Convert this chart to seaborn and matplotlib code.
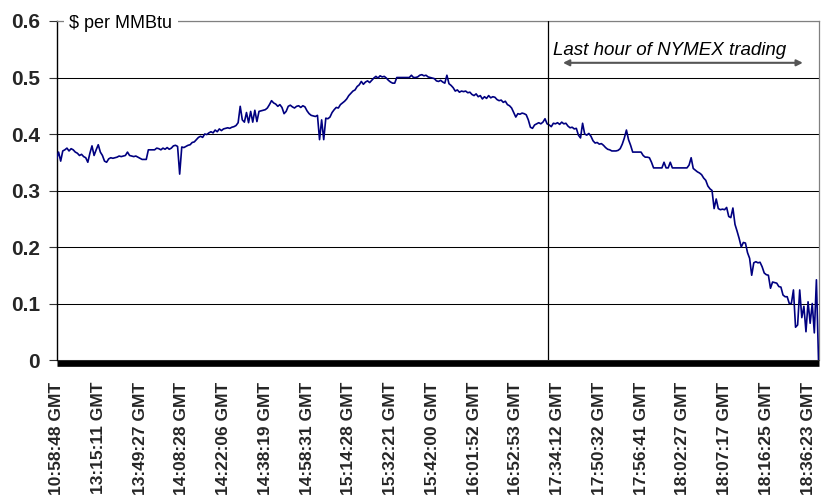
import numpy as np
import pandas as pd
import matplotlib
matplotlib.use("Agg")
import matplotlib.pyplot as plt
import seaborn as sns

# Intraday basis spread, $ per MMBtu, one value per trade sample (20 samples per labelled tick)
prices = (
    [0.355, 0.368, 0.352, 0.370, 0.372, 0.375, 0.370, 0.374, 0.372, 0.368,
     0.366, 0.362, 0.364, 0.360, 0.358, 0.350, 0.366, 0.379, 0.362, 0.372]
    + [0.381, 0.368, 0.362, 0.352, 0.350, 0.356, 0.358, 0.357, 0.358, 0.359,
       0.361, 0.360, 0.361, 0.362, 0.368, 0.362, 0.361, 0.360, 0.361, 0.359]
    + [0.357, 0.355, 0.355, 0.355, 0.372, 0.372, 0.372, 0.372, 0.375, 0.374,
       0.372, 0.375, 0.373, 0.376, 0.373, 0.375, 0.379, 0.380, 0.378, 0.329]
    + [0.377, 0.376, 0.378, 0.380, 0.381, 0.385, 0.386, 0.390, 0.394, 0.396,
       0.394, 0.400, 0.399, 0.402, 0.404, 0.402, 0.407, 0.404, 0.409, 0.406]
    + [0.409, 0.410, 0.411, 0.410, 0.412, 0.413, 0.415, 0.420, 0.449, 0.425,
       0.421, 0.438, 0.420, 0.440, 0.421, 0.442, 0.422, 0.440, 0.441, 0.442]
    + [0.443, 0.446, 0.452, 0.459, 0.455, 0.453, 0.449, 0.452, 0.447, 0.436,
       0.440, 0.449, 0.451, 0.448, 0.446, 0.449, 0.450, 0.447, 0.450, 0.448]
    + [0.441, 0.436, 0.433, 0.432, 0.431, 0.433, 0.390, 0.425, 0.390, 0.428,
       0.427, 0.430, 0.438, 0.443, 0.447, 0.446, 0.452, 0.455, 0.458, 0.462]
    + [0.468, 0.472, 0.476, 0.478, 0.484, 0.487, 0.493, 0.488, 0.492, 0.494,
       0.491, 0.495, 0.499, 0.502, 0.499, 0.503, 0.501, 0.502, 0.499, 0.495]
    + [0.492, 0.490, 0.490, 0.500, 0.500, 0.500, 0.500, 0.500, 0.500, 0.500,
       0.504, 0.500, 0.500, 0.501, 0.504, 0.505, 0.503, 0.504, 0.501, 0.500]
    + [0.499, 0.498, 0.494, 0.493, 0.495, 0.492, 0.490, 0.504, 0.489, 0.486,
       0.482, 0.476, 0.478, 0.474, 0.476, 0.475, 0.476, 0.473, 0.474, 0.470]
    + [0.468, 0.471, 0.466, 0.468, 0.462, 0.466, 0.463, 0.468, 0.464, 0.466,
       0.465, 0.461, 0.459, 0.460, 0.456, 0.458, 0.452, 0.450, 0.446, 0.438]
    + [0.430, 0.436, 0.435, 0.437, 0.436, 0.434, 0.425, 0.412, 0.410, 0.416,
       0.418, 0.420, 0.418, 0.421, 0.427, 0.418, 0.416, 0.413, 0.419, 0.418]
    + [0.420, 0.417, 0.421, 0.418, 0.419, 0.414, 0.411, 0.412, 0.409, 0.410,
       0.398, 0.393, 0.419, 0.400, 0.398, 0.401, 0.396, 0.388, 0.384, 0.385]
    + [0.382, 0.383, 0.380, 0.376, 0.373, 0.372, 0.370, 0.370, 0.370, 0.371,
       0.374, 0.382, 0.393, 0.407, 0.390, 0.380, 0.368, 0.368, 0.368, 0.368]
    + [0.368, 0.362, 0.359, 0.359, 0.358, 0.350, 0.340, 0.340, 0.340, 0.340,
       0.340, 0.350, 0.340, 0.340, 0.350, 0.340, 0.340, 0.340, 0.340, 0.340]
    + [0.340, 0.340, 0.340, 0.345, 0.358, 0.339, 0.336, 0.333, 0.331, 0.328,
       0.322, 0.318, 0.308, 0.303, 0.300, 0.268, 0.285, 0.268, 0.266, 0.267]
    + [0.266, 0.270, 0.254, 0.252, 0.269, 0.240, 0.228, 0.215, 0.200, 0.208,
       0.207, 0.190, 0.180, 0.150, 0.172, 0.174, 0.172, 0.173, 0.165, 0.154]
    + [0.151, 0.150, 0.127, 0.138, 0.137, 0.136, 0.130, 0.129, 0.115, 0.112,
       0.112, 0.100, 0.100, 0.124, 0.058, 0.062, 0.124, 0.075, 0.095, 0.050]
    + [0.103, 0.065, 0.100, 0.048, 0.142, 0.000]
)

tick_labels = [
    "10:58:48 GMT", "13:15:11 GMT", "13:49:27 GMT", "14:08:28 GMT",
    "14:22:06 GMT", "14:38:19 GMT", "14:58:31 GMT", "15:14:28 GMT",
    "15:32:21 GMT", "15:42:00 GMT", "16:01:52 GMT", "16:52:53 GMT",
    "17:34:12 GMT", "17:50:32 GMT", "17:56:41 GMT", "18:02:27 GMT",
    "18:07:17 GMT", "18:16:25 GMT", "18:36:23 GMT",
]
samples_per_label = 20
y_ticks = [0, 0.1, 0.2, 0.3, 0.4, 0.5, 0.6]
y_tick_labels = ["0", "0.1", "0.2", "0.3", "0.4", "0.5", "0.6"]

# start of the final hour of NYMEX trading, in sample units
last_hour_start = 235.4
last_hour_end = 365

sns.set_theme(style="white")
plt.rcParams["font.family"] = ["Liberation Sans", "DejaVu Sans"]

df = pd.DataFrame({"sample": np.arange(len(prices)), "price": prices})

W, H = 822, 499
fig = plt.figure(figsize=(W / 100, H / 100), dpi=100)
ax = fig.add_axes([56.5 / W, 1 - 360 / H, 762 / W, 339 / H])

# frame first: repositioning a spine rebuilds its axis ticks
for side in ("top", "right"):
    ax.spines[side].set_color("#808080")
    ax.spines[side].set_linewidth(0.9)
ax.spines["left"].set_color("black")
ax.spines["left"].set_linewidth(1.0)
ax.spines["bottom"].set_color("black")
ax.spines["bottom"].set_linewidth(4.8)
ax.spines["bottom"].set_capstyle("butt")
ax.spines["bottom"].set_position(("outward", 2.4))

ax.yaxis.grid(True, color="black", linewidth=0.75)
ax.set_axisbelow(True)

sns.lineplot(data=df, x="sample", y="price", ax=ax, color="#000080",
             linewidth=1.2, estimator=None, zorder=3)

ax.set_xlim(0, last_hour_end)
ax.set_ylim(0, 0.6)
ax.set_xlabel("")
ax.set_ylabel("")

ax.set_xticks(np.arange(len(tick_labels)) * samples_per_label)
ax.set_xticklabels(tick_labels, rotation=90, fontsize=12.5, fontweight="bold")
ax.set_yticks(y_ticks)
ax.set_yticklabels(y_tick_labels, fontsize=15, fontweight="bold")
ax.tick_params(axis="x", length=0, pad=13)
ax.tick_params(axis="y", direction="out", length=5.5, width=0.8,
               color="#333333", pad=6.5, left=True)

# marker for the last trading hour
ax.axvline(last_hour_start, ymin=0, ymax=1, color="black", linewidth=0.9, zorder=4)
ax.annotate("", xy=(242.6, 0.526), xytext=(357.5, 0.526),
            arrowprops=dict(arrowstyle="<|-|>", color="#555555", lw=1.5,
                            mutation_scale=9, shrinkA=0, shrinkB=0))
ax.text(238, 0.54, "Last hour of NYMEX trading", fontsize=13.5,
        fontstyle="italic", ha="left", va="baseline", color="black")

ax.text(6.2, 0.5876, "$ per MMBtu", fontsize=13, ha="left", va="baseline",
        color="black", zorder=5,
        bbox=dict(facecolor="white", edgecolor="none", pad=4))

fig.savefig("out.png", dpi=100)
